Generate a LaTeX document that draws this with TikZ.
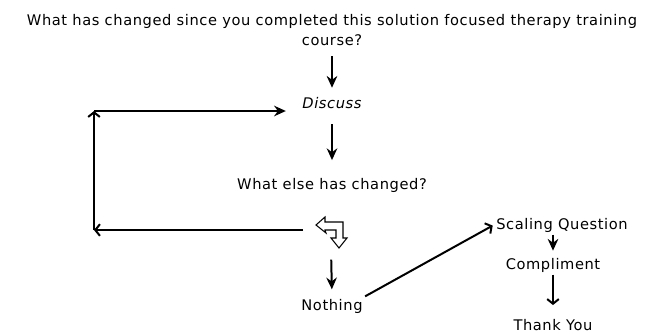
\documentclass[tikz,border=0pt]{standalone}
\usepackage{fontspec}
\setmainfont{DejaVu Sans}[LetterSpace=4]
\usetikzlibrary{arrows.meta}

\begin{document}
\begin{tikzpicture}
[x=0.03cm, y=-0.03cm,
 txt/.style ={inner sep=2pt, align=center, font=\fontsize{12.5}{17}\selectfont},
 emph/.style ={txt, font=\fontsize{12.5}{17}\selectfont\itshape},
 line/.style ={draw, line width=1.7pt},
 full/.style ={line, -{Stealth[length=10pt,width=9pt]}},
 barb/.style ={line, -{Straight Barb[length=4pt,width=10pt]}},
 turnbox/.style ={draw, line width=0.9pt, fill=white, line join=miter}]
\useasboundingbox (0,0) rectangle (668,333);
\path (332,30) node[txt] (Q) {What has changed since you completed this solution focused therapy training\\course?}
      (332,103) node[emph] (D) {Discuss}
      (332,185) node[txt] (E) {What else has changed?}
      (332,306) node[txt] (N) {Nothing}
      (562,225) node[txt] (S) {Scaling Question}
      (553,265) node[txt] (C) {Compliment}
      (553,325) node[txt] (Y) {Thank You};
\coordinate (turn) at (303,230);
\coordinate (turnout) at (331,249);
\coordinate (bl) at (94,230);
\coordinate (tl) at (94,111);
% hollow turning arrow
\draw[turnbox] (316,225) -- (325,217) -- (325,222) -- (343,222) -- (343,238)
  -- (347,238) -- (339,248) -- (331,238) -- (336,238) -- (336,230)
  -- (325,230) -- (326,233) -- cycle;
\draw[full, shorten <=7pt, shorten >=6pt] (D.north |- Q.south) -- (D.north);
\draw[full, shorten <=11pt, shorten >=13pt] (D.south) -- (E.north);
\draw[barb] (turn) -- (bl);
\draw[barb] (bl) -- (tl);
\draw[full, shorten >=12pt] (tl) -- (tl -| D.west);
\draw[full, shorten <=9pt, shorten >=6pt] (turnout) -- (N.north);
\draw[barb, shorten >=1pt] (N.north east) -- (S.west);
\draw[full, shorten >=4pt] (C.north |- S.south) -- (C.north);
\draw[barb, shorten >=10pt] (C.south) -- (Y.north);
\end{tikzpicture}
\end{document}
